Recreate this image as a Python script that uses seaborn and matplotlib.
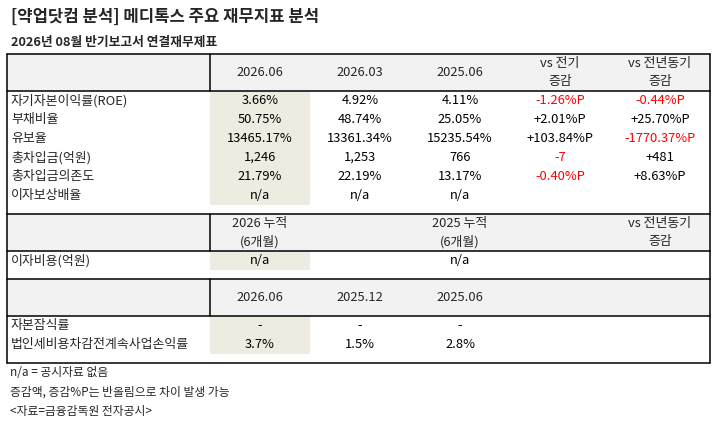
import matplotlib
matplotlib.use("Agg")
import matplotlib.pyplot as plt
from matplotlib.patches import Rectangle
import seaborn as sns

# Title / texts
title = "[약업닷컴 분석] 메디톡스 주요 재무지표 분석"
subtitle = "2026년 08월 반기보고서 연결재무제표"
footnotes = ["n/a = 공시자료 없음", "증감액, 증감%P는 반올림으로 차이 발생 가능", "<자료=금융감독원 전자공시>"]

# Section 1
head1 = ["2026.06", "2026.03", "2025.06", "vs 전기\n증감", "vs 전년동기\n증감"]
rows1 = ["자기자본이익률(ROE)", "부채비율", "유보율", "총차입금(억원)", "총차입금의존도", "이자보상배율"]
vals1 = [
    ["3.66%", "4.92%", "4.11%", "-1.26%P", "-0.44%P"],
    ["50.75%", "48.74%", "25.05%", "+2.01%P", "+25.70%P"],
    ["13465.17%", "13361.34%", "15235.54%", "+103.84%P", "-1770.37%P"],
    ["1,246", "1,253", "766", "-7", "+481"],
    ["21.79%", "22.19%", "13.17%", "-0.40%P", "+8.63%P"],
    ["n/a", "n/a", "n/a", "", ""],
]

# Section 2
head2 = ["2026 누적\n(6개월)", "", "2025 누적\n(6개월)", "", "vs 전년동기\n증감"]
rows2 = ["이자비용(억원)"]
vals2 = [["n/a", "", "n/a", "", ""]]

# Section 3
head3 = ["2026.06", "2025.12", "2025.06", "", ""]
rows3 = ["자본잠식률", "법인세비용차감전계속사업손익률"]
vals3 = [
    ["-", "-", "-", "", ""],
    ["3.7%", "1.5%", "2.8%", "", ""],
]

sections = [(head1, rows1, vals1, True), (head2, rows2, vals2, True), (head3, rows3, vals3, False)]

sns.set_theme(style="white")
plt.rcParams['font.family'] = ['Noto Sans CJK KR', 'DejaVu Sans']

fig = plt.figure(figsize=(7.21, 4.21), dpi=100)
ax = fig.add_axes([0, 0, 1, 1])
ax.set_xlim(0, 721)
ax.set_ylim(421, 0)
ax.axis("off")

# layout (pixels)
left, right = 7, 710
label_w = 203
col_w = 100
head_h, row_h, pad = 37, 19, 9
top = 54
fs = 9.3
hl_color = "#eeebe0"
head_color = "#f2f2f2"
red = "#ff0000"
lw = 1.1

ax.text(11, 17, title, fontsize=12, fontweight="bold", va="center", ha="left")
ax.text(11, 42, subtitle, fontsize=9.2, fontweight="bold", va="center", ha="left")

y = top
for head, rows, vals, red_changes in sections:
    # header background
    ax.add_patch(Rectangle((left, y), right - left, head_h, facecolor=head_color, edgecolor="none"))
    ax.plot([left, right], [y, y], color="black", lw=lw)
    ax.plot([left + label_w, left + label_w], [y, y + head_h], color="black", lw=lw)
    for j, h in enumerate(head):
        cx = left + label_w + col_w * j + col_w / 2
        ax.text(cx, y + head_h / 2, h, fontsize=fs, ha="center", va="center", linespacing=1.45)
    y += head_h
    ax.plot([left, right], [y, y], color="black", lw=lw)
    # highlighted first data column
    ax.add_patch(Rectangle((left + label_w, y), col_w, row_h * len(rows), facecolor=hl_color, edgecolor="none"))
    for i, r in enumerate(rows):
        cy = y + row_h * i + row_h / 2
        ax.text(11, cy, r, fontsize=fs, ha="left", va="center")
        for j, v in enumerate(vals[i]):
            cx = left + label_w + col_w * j + col_w / 2
            color = red if (red_changes and j >= 3 and v.startswith("-")) else "black"
            ax.text(cx, cy, v, fontsize=fs, ha="center", va="center", color=color)
    y += row_h * len(rows) + pad

ax.plot([left, right], [y, y], color="black", lw=lw)
ax.plot([left, left], [top, y], color="black", lw=lw)
ax.plot([right, right], [top, y], color="black", lw=lw)

for k, note in enumerate(footnotes):
    ax.text(10, y + 10 + 19 * k, note, fontsize=8.5, ha="left", va="center")

fig.savefig("out.png", dpi=100)
